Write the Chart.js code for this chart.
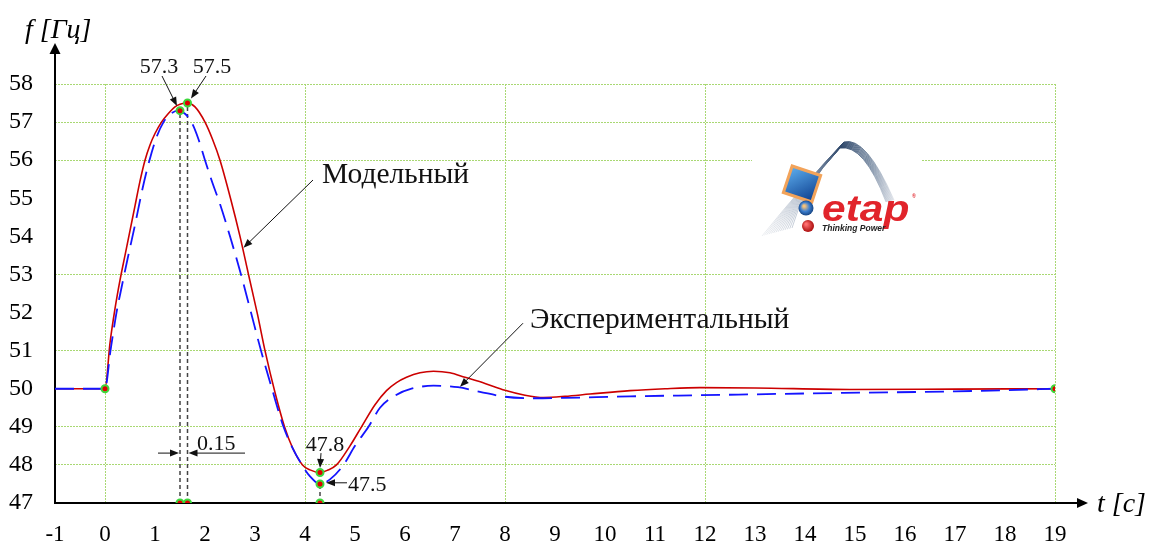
<!DOCTYPE html>
<html>
<head>
<meta charset="utf-8">
<script src="https://cdn.jsdelivr.net/npm/chart.js@4"></script>
<style>
  html, body { margin: 0; padding: 0; background: #fff; }
  #wrap { width: 1150px; height: 543px; }
</style>
</head>
<body>
<div id="wrap"><canvas id="grafico" width="1150" height="543"></canvas></div>
<script>
// Модельный процесс: время, с / частота, Гц
const tModel = [-1, 0, 0.1, 0.2, 0.3, 0.4, 0.5, 0.6, 0.7, 0.8, 0.9, 1.0, 1.13, 1.25, 1.4, 1.5, 1.65, 1.8, 2.0, 2.15, 2.3, 2.52, 2.7, 2.87, 3.05, 3.2, 3.4, 3.59, 3.75, 3.95, 4.1, 4.3, 4.45, 4.63, 4.9, 5.13, 5.4, 5.63, 5.83, 6.03, 6.3, 6.57, 6.9, 7.2, 7.6, 8.0, 8.4, 8.77, 9.2, 9.7, 10.5, 11.2, 11.9, 13, 14.9, 17, 19];
const fModel = [50, 50, 51.2, 52.1, 52.85, 53.5, 54.15, 54.8, 55.45, 56.0, 56.4, 56.7, 57.0, 57.2, 57.4, 57.47, 57.5, 57.4, 57.0, 56.55, 56.0, 54.95, 54.0, 53.0, 51.95, 51.0, 49.9, 49.0, 48.45, 48.0, 47.87, 47.8, 47.86, 48.0, 48.5, 49.0, 49.58, 49.95, 50.16, 50.3, 50.42, 50.46, 50.42, 50.3, 50.14, 49.96, 49.83, 49.77, 49.8, 49.86, 49.95, 50.0, 50.03, 50.02, 49.98, 49.99, 50];

// Экспериментальный процесс
const tExp = [-1, 0, 0.11, 0.23, 0.33, 0.45, 0.6, 0.75, 0.89, 1.03, 1.17, 1.3, 1.46, 1.6, 1.73, 1.87, 2.0, 2.15, 2.3, 2.5, 2.72, 2.92, 3.12, 3.35, 3.57, 3.75, 3.94, 4.1, 4.3, 4.5, 4.77, 5.0, 5.27, 5.5, 5.8, 6.13, 6.57, 7.06, 7.5, 8.0, 8.6, 9.17, 10.5, 11.9, 14.77, 17, 19];
const fExp = [50, 50, 51.0, 52.0, 52.65, 53.4, 54.3, 55.25, 56.0, 56.6, 57.0, 57.2, 57.3, 57.22, 57.0, 56.55, 56.0, 55.4, 54.85, 54.0, 53.0, 52.0, 51.0, 49.95, 49.0, 48.45, 48.0, 47.7, 47.5, 47.62, 48.0, 48.5, 49.0, 49.5, 49.82, 50.0, 50.08, 50.04, 49.92, 49.79, 49.75, 49.76, 49.8, 49.83, 49.89, 49.93, 50];

// отмеченные точки: пики, минимумы, начало и конец
const tPeaks = [1.5, 1.65];
const fPeaks = [57.3, 57.5];
const tDip = 4.3;
const fDips = [47.8, 47.5];
const tEnds = [0, 19];
const fEnds = [50, 50];

// подписи осей и сетка
const xTicks = [-1, 0, 1, 2, 3, 4, 5, 6, 7, 8, 9, 10, 11, 12, 13, 14, 15, 16, 17, 18, 19];
const yTicks = [47, 48, 49, 50, 51, 52, 53, 54, 55, 56, 57, 58];
const xGrid = [0, 4, 8, 12, 19];
const yGrid = [48, 49, 51, 53, 56, 57, 58];

const SERIF = "'Liberation Serif', 'Times New Roman', serif";
const GRID = '#a9d873';

const pts = (ts, fs) => ts.map((t, i) => ({ x: t, y: fs[i] }));

const markers = [
  ...pts(tEnds, fEnds),
  ...pts(tPeaks, fPeaks),
  ...pts(tPeaks, [47, 47]),
  ...pts([tDip, tDip], fDips),
  { x: tDip, y: 47 }
];

const vline = (t, f) => ({
  data: [{ x: t, y: 47 }, { x: t, y: f }],
  borderColor: '#444',
  borderWidth: 1.5,
  borderDash: [4, 3],
  pointRadius: 0
});

// стрелки-выноски (в единицах осей)
const notes = [
  { text: '57.3', t: 1.08, f: 58.29, align: 'center', from: [1.14, 58.21], to: [1.44, 57.42] },
  { text: '57.5', t: 2.14, f: 58.29, align: 'center', from: [2.02, 58.21], to: [1.72, 57.62] },
  { text: '47.8', t: 4.4, f: 48.36, align: 'center', from: [4.32, 48.31], to: [4.3, 47.92] },
  { text: '47.5', t: 4.86, f: 47.31, align: 'left', from: [4.84, 47.53], to: [4.42, 47.53] },
  { text: '0.15', t: 1.84, f: 48.39, align: 'left', from: [1.06, 48.31], to: [1.48, 48.31] },
  { text: '', from: [2.8, 48.31], to: [1.67, 48.31] },
  { text: 'Модельный', t: 4.34, f: 55.4, align: 'left', big: true, from: [4.16, 55.48], to: [2.77, 53.7] },
  { text: 'Экспериментальный', t: 8.5, f: 51.59, align: 'left', big: true, from: [8.36, 51.72], to: [7.1, 50.05] }
];

function arrow(ctx, x1, y1, x2, y2, len, half, width) {
  const a = Math.atan2(y2 - y1, x2 - x1);
  ctx.lineWidth = width;
  ctx.beginPath();
  ctx.moveTo(x1, y1);
  ctx.lineTo(x2 - Math.cos(a) * len * 0.8, y2 - Math.sin(a) * len * 0.8);
  ctx.stroke();
  ctx.beginPath();
  ctx.moveTo(x2, y2);
  ctx.lineTo(x2 - Math.cos(a) * len + Math.sin(a) * half, y2 - Math.sin(a) * len - Math.cos(a) * half);
  ctx.lineTo(x2 - Math.cos(a) * len - Math.sin(a) * half, y2 - Math.sin(a) * len + Math.cos(a) * half);
  ctx.closePath();
  ctx.fill();
}

function drawLogo(ctx, x0, y0) {
  ctx.save();
  ctx.fillStyle = '#fff';
  ctx.fillRect(x0, y0, 170, 102);

  // шлейф: светлый хвост снизу, тёмная дуга сверху
  const sw = ctx.createLinearGradient(x0 + 5, 0, x0 + 145, 0);
  sw.addColorStop(0, 'rgba(200,205,215,0.25)');
  sw.addColorStop(0.35, 'rgba(150,165,185,0.7)');
  sw.addColorStop(0.6, 'rgba(45,70,105,0.95)');
  sw.addColorStop(0.8, 'rgba(110,130,155,0.8)');
  sw.addColorStop(1, 'rgba(210,215,225,0.4)');
  ctx.strokeStyle = sw;
  ctx.lineWidth = 1;
  for (let i = 0; i < 14; i++) {
    const k = i / 13;
    ctx.beginPath();
    ctx.moveTo(x0 + 10 + k * 30, y0 + 96 - k * 8);
    ctx.quadraticCurveTo(x0 + 52 - k * 2, y0 + 44 + k * 4, x0 + 92 - k * 4, y0 + 2 + k * 6);
    ctx.quadraticCurveTo(x0 + 114 - k * 2, y0 - 4 + k * 8, x0 + 142 - k * 8, y0 + 60 + k * 2);
    ctx.stroke();
  }

  // экран
  ctx.save();
  ctx.translate(x0 + 50, y0 + 44);
  ctx.rotate(0.32);
  const sg = ctx.createLinearGradient(-15, -15, 15, 15);
  sg.addColorStop(0, '#5fb0f0');
  sg.addColorStop(1, '#0b3c8c');
  ctx.fillStyle = sg;
  ctx.strokeStyle = '#f2a35a';
  ctx.lineWidth = 3;
  ctx.fillRect(-15, -14, 30, 28);
  ctx.strokeRect(-15, -14, 30, 28);
  ctx.restore();

  // глобус и шар
  const gg = ctx.createRadialGradient(x0 + 52, y0 + 66, 1, x0 + 54, y0 + 68, 8);
  gg.addColorStop(0, '#f6c27a');
  gg.addColorStop(0.5, '#3c7fd0');
  gg.addColorStop(1, '#123e7a');
  ctx.fillStyle = gg;
  ctx.beginPath();
  ctx.arc(x0 + 54, y0 + 68, 7.5, 0, Math.PI * 2);
  ctx.fill();
  const rg = ctx.createRadialGradient(x0 + 54, y0 + 84, 1, x0 + 56, y0 + 86, 7);
  rg.addColorStop(0, '#ff7070');
  rg.addColorStop(1, '#a00000');
  ctx.fillStyle = rg;
  ctx.beginPath();
  ctx.arc(x0 + 56, y0 + 86, 6, 0, Math.PI * 2);
  ctx.fill();

  // надпись
  ctx.save();
  ctx.translate(x0 + 70, y0 + 81);
  ctx.scale(1.18, 1);
  ctx.font = "italic bold 36px 'Liberation Sans', Arial, sans-serif";
  ctx.fillStyle = '#e1242b';
  ctx.textBaseline = 'alphabetic';
  ctx.fillText('etap', 0, 0);
  ctx.restore();
  ctx.font = "italic bold 5px 'Liberation Sans', sans-serif";
  ctx.fillStyle = '#e1242b';
  ctx.fillText('®', x0 + 160, y0 + 58);
  ctx.font = "italic bold 8.5px 'Liberation Sans', sans-serif";
  ctx.fillStyle = '#222';
  ctx.fillText('Thinking Power', x0 + 70, y0 + 91);
  ctx.restore();
}

const decor = {
  id: 'decor',
  // оси и логотип под кривыми и маркерами
  beforeDatasetsDraw(chart) {
    const { ctx, chartArea: a } = chart;
    ctx.save();
    drawLogo(ctx, 752, 140);

    ctx.strokeStyle = '#000';
    ctx.fillStyle = '#000';
    ctx.lineWidth = 2;
    ctx.beginPath();
    ctx.moveTo(a.left, a.bottom);
    ctx.lineTo(a.left, a.top - 30);
    ctx.moveTo(a.left - 1, a.bottom);
    ctx.lineTo(a.right + 24, a.bottom);
    ctx.stroke();
    ctx.beginPath();
    ctx.moveTo(a.left, a.top - 41);
    ctx.lineTo(a.left - 5.5, a.top - 30);
    ctx.lineTo(a.left + 5.5, a.top - 30);
    ctx.closePath();
    ctx.fill();
    ctx.beginPath();
    ctx.moveTo(a.right + 33, a.bottom);
    ctx.lineTo(a.right + 22, a.bottom - 5);
    ctx.lineTo(a.right + 22, a.bottom + 5);
    ctx.closePath();
    ctx.fill();
    ctx.restore();
  },
  afterDraw(chart) {
    const { ctx, chartArea: a, scales: { x, y } } = chart;
    ctx.save();
    ctx.fillStyle = '#000';
    ctx.font = 'italic 28px ' + SERIF;
    ctx.textAlign = 'left';
    ctx.textBaseline = 'alphabetic';
    ctx.fillText('f [Гц]', a.left - 30, a.top - 46);
    ctx.fillText('t [c]', a.right + 42, a.bottom + 9);

    // выноски
    ctx.strokeStyle = '#111';
    ctx.fillStyle = '#111';
    for (const n of notes) {
      arrow(ctx, x.getPixelForValue(n.from[0]), y.getPixelForValue(n.from[1]),
        x.getPixelForValue(n.to[0]), y.getPixelForValue(n.to[1]), 9, 3.5, 1);
      if (n.text) {
        ctx.font = (n.big ? '29.5px ' : '22px ') + SERIF;
        ctx.textAlign = n.align;
        ctx.fillText(n.text, x.getPixelForValue(n.t), y.getPixelForValue(n.f));
      }
    }
    ctx.restore();
  }
};

const ctx = document.querySelector('#grafico').getContext('2d');
const grafico = new Chart(ctx, {
  type: 'line',
  data: {
    datasets: [
      {
        data: markers,
        showLine: false,
        pointRadius: 3.5,
        pointBorderWidth: 2,
        pointBackgroundColor: '#e00000',
        pointBorderColor: '#3cd83c'
      },
      {
        label: 'Экспериментальный',
        data: pts(tExp, fExp),
        borderColor: '#1414ff',
        borderWidth: 1.8,
        borderDash: [19, 9],
        pointRadius: 0,
        cubicInterpolationMode: 'monotone'
      },
      {
        label: 'Модельный',
        data: pts(tModel, fModel),
        borderColor: '#cc0000',
        borderWidth: 1.6,
        pointRadius: 0,
        cubicInterpolationMode: 'monotone'
      },
      vline(tPeaks[0], fPeaks[0]),
      vline(tPeaks[1], fPeaks[1]),
      vline(tDip, fDips[1])
    ]
  },
  options: {
    responsive: false,
    animation: false,
    layout: { padding: { top: 84, right: 95, left: 0, bottom: 0 } },
    plugins: { legend: { display: false }, tooltip: { enabled: false } },
    scales: {
      x: {
        type: 'linear',
        min: -1,
        max: 19,
        afterBuildTicks: s => { s.ticks = xTicks.map(v => ({ value: v })); },
        afterFit: s => { s.height = 40; },
        ticks: { font: { family: SERIF, size: 23 }, color: '#000', padding: 18, maxRotation: 0, autoSkip: false },
        grid: {
          drawTicks: false,
          lineWidth: 1,
          color: c => (c.tick && xGrid.includes(c.tick.value)) ? GRID : 'rgba(0,0,0,0)'
        },
        border: { display: false, dash: [2, 1] }
      },
      y: {
        min: 47,
        max: 58,
        afterBuildTicks: s => { s.ticks = yTicks.map(v => ({ value: v })); },
        afterFit: s => { s.width = 55; },
        ticks: { font: { family: SERIF, size: 24 }, color: '#000', padding: 22 },
        grid: {
          drawTicks: false,
          lineWidth: 1,
          color: c => (c.tick && yGrid.includes(c.tick.value)) ? GRID : 'rgba(0,0,0,0)'
        },
        border: { display: false, dash: [2, 1] }
      }
    }
  },
  plugins: [decor]
});
</script>
</body>
</html>
